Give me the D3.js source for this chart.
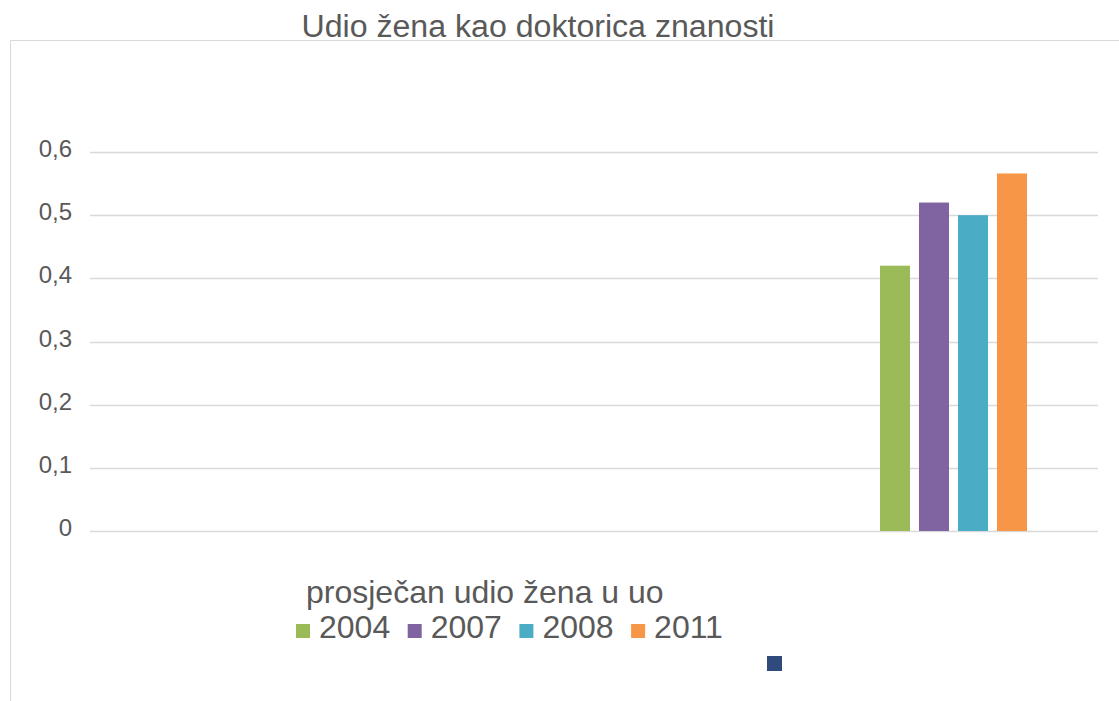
<!DOCTYPE html>
<html>
<head>
<meta charset="utf-8">
<script src="https://cdn.jsdelivr.net/npm/d3@7"></script>
<style>
  body { margin: 0; background: #fff; }
  svg { display: block; font-family: "Liberation Sans", Arial, sans-serif; }
</style>
</head>
<body>
<script>
// data
var title = "Udio žena kao doktorica znanosti";
var category = "prosječan udio žena u uo";
var years = ["2004", "2007", "2008", "2011"];
var values = [0.42, 0.52, 0.50, 0.566];
var colors = ["#9bbb59", "#8064a2", "#4bacc6", "#f79646"];
var yTicks = [0, 0.1, 0.2, 0.3, 0.4, 0.5, 0.6];

var width = 1119, height = 701;

var svg = d3.select("body").append("svg")
  .attr("width", width)
  .attr("height", height);

// outer frame (only top and left edges show)
svg.append("path")
  .attr("d", "M10.5," + height + "V40.5H" + width)
  .attr("fill", "none")
  .attr("stroke", "#d9d9d9")
  .attr("stroke-width", 1);

// title
svg.append("text")
  .attr("x", 538)
  .attr("y", 37)
  .attr("text-anchor", "middle")
  .attr("fill", "#595959")
  .attr("textLength", 473)
  .attr("lengthAdjust", "spacingAndGlyphs")
  .style("font-size", "31px")
  .text(title);

// scales
var y = d3.scaleLinear().domain([0, 0.6]).range([531, 152]);
var x = d3.scaleBand().domain(years).range([880, 1027]).paddingInner(0.23);

// gridlines
svg.append("g")
  .selectAll("line")
  .data(yTicks)
  .enter().append("line")
  .attr("x1", 90)
  .attr("x2", 1098)
  .attr("y1", function (d) { return Math.round(y(d)) + 0.5; })
  .attr("y2", function (d) { return Math.round(y(d)) + 0.5; })
  .attr("stroke", "#d9d9d9")
  .attr("stroke-width", 1.5);

// y tick labels
var fmt = d3.format(".1f");
svg.append("g")
  .selectAll("text")
  .data(yTicks)
  .enter().append("text")
  .attr("x", 72)
  .attr("y", function (d) { return y(d) + 5; })
  .attr("text-anchor", "end")
  .attr("fill", "#595959")
  .style("font-size", "24px")
  .text(function (d) { return d === 0 ? "0" : fmt(d).replace(".", ","); });

// bars
svg.append("g")
  .selectAll("rect")
  .data(values)
  .enter().append("rect")
  .attr("x", function (d, i) { return x(years[i]); })
  .attr("y", function (d) { return y(d); })
  .attr("width", x.bandwidth())
  .attr("height", function (d) { return y(0) - y(d); })
  .attr("fill", function (d, i) { return colors[i]; });

// category label
svg.append("text")
  .attr("x", 306)
  .attr("y", 603)
  .attr("fill", "#595959")
  .style("font-size", "32px")
  .text(category);

// legend
var legend = svg.append("g")
  .selectAll("g")
  .data(years)
  .enter().append("g")
  .attr("transform", function (d, i) { return "translate(" + (296 + i * 111.7) + ",624)"; });

legend.append("rect")
  .attr("width", 14)
  .attr("height", 14)
  .attr("fill", function (d, i) { return colors[i]; });

legend.append("text")
  .attr("x", 23)
  .attr("y", 14)
  .attr("fill", "#595959")
  .style("font-size", "32px")
  .text(function (d) { return d; });

// stray legend swatch with no label
svg.append("rect")
  .attr("x", 767)
  .attr("y", 656)
  .attr("width", 15)
  .attr("height", 15)
  .attr("fill", "#2e4b7b");
</script>
</body>
</html>
